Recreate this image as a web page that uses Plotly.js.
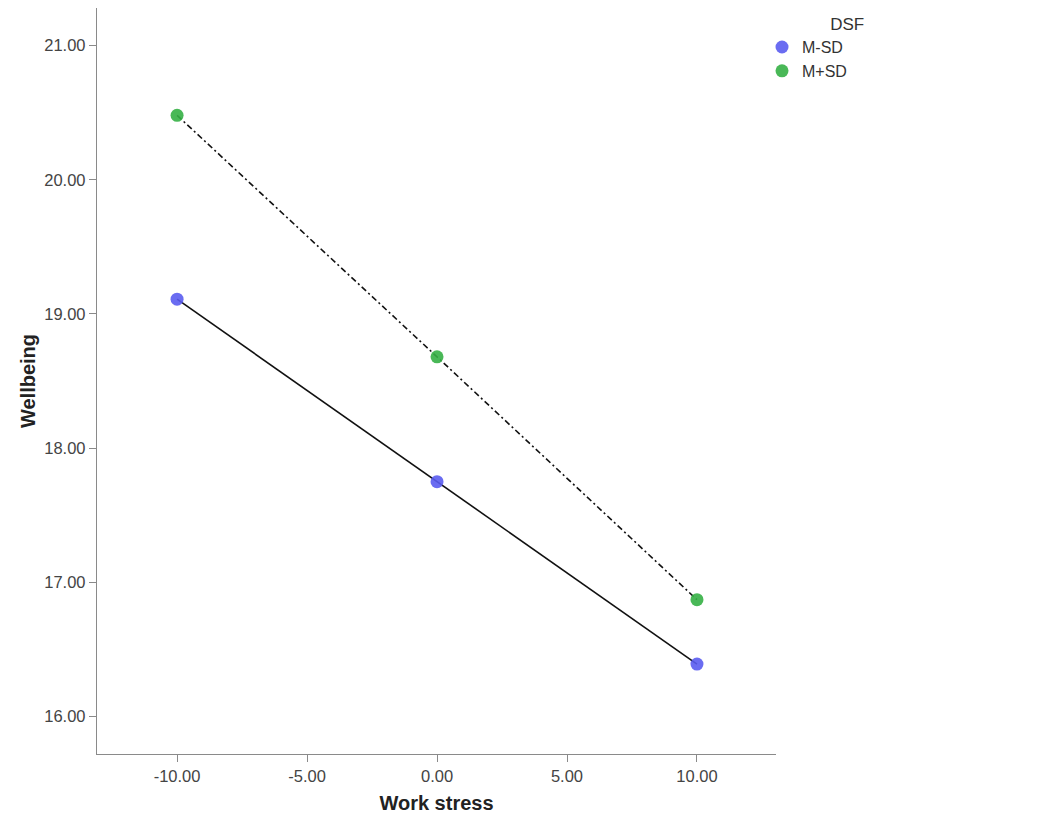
<!DOCTYPE html>
<html>
<head>
<meta charset="utf-8">
<script src="https://cdn.plot.ly/plotly-3.0.1.min.js"></script>
<style>html,body{margin:0;padding:0;background:#fff;}#chart{width:1037px;height:829px;}</style>
</head>
<body>
<div id="chart"></div>
<script>
const workStress = [-10, 0, 10];
const wellbeingMinusSD = [19.11, 17.75, 16.39];
const wellbeingPlusSD = [20.48, 18.68, 16.87];
const seriesNames = ['M-SD', 'M+SD'];
const legendTitle = 'DSF';
const xTicks = [-10, -5, 0, 5, 10];
const yTicks = [16, 17, 18, 19, 20, 21];

const blue = '#5a5cf0';
const green = '#35b045';

const traces = [
  {x: workStress, y: wellbeingMinusSD, mode: 'lines', line: {color: '#111', width: 1.6, dash: 'solid'}, showlegend: false, hoverinfo: 'skip'},
  {x: workStress, y: wellbeingPlusSD, mode: 'lines', line: {color: '#111', width: 1.6, dash: '6px,3px,2px,3px'}, showlegend: false, hoverinfo: 'skip'},
  {x: workStress, y: wellbeingMinusSD, mode: 'markers', name: seriesNames[0], marker: {color: blue, size: 13, opacity: 0.9}},
  {x: workStress, y: wellbeingPlusSD, mode: 'markers', name: seriesNames[1], marker: {color: green, size: 13, opacity: 0.9}}
];

const layout = {
  width: 1037, height: 829,
  margin: {l: 97, r: 261, t: 8, b: 75},
  paper_bgcolor: '#fff', plot_bgcolor: '#fff',
  font: {family: 'Liberation Sans, Arial, sans-serif', color: '#444', size: 16.5},
  xaxis: {
    range: [-13.08, 13.04],
    tickvals: xTicks,
    ticktext: xTicks.map(v => v.toFixed(2)),
    showgrid: false, zeroline: false,
    showline: true, linecolor: '#8a8a8a', linewidth: 1.2,
    ticks: 'outside', ticklen: 7, tickcolor: '#8a8a8a',
    tickfont: {size: 16.5, color: '#444'},
    title: {text: 'Work stress', font: {size: 20, color: '#222', weight: 'bold'}, standoff: 12}
  },
  yaxis: {
    range: [15.72, 21.28],
    tickvals: yTicks,
    ticktext: yTicks.map(v => v.toFixed(2)),
    showgrid: false, zeroline: false,
    showline: true, linecolor: '#8a8a8a', linewidth: 1.2,
    ticks: 'outside', ticklen: 7, tickcolor: '#8a8a8a',
    tickfont: {size: 16.5, color: '#444'},
    title: {text: 'Wellbeing', font: {size: 20, color: '#222', weight: 'bold'}, standoff: 3}
  },
  showlegend: true,
  legend: {
    x: 0.9794, y: 1.0, xanchor: 'left', yanchor: 'top',
    title: {text: '\u00a0'.repeat(14) + legendTitle, side: 'top', font: {size: 17, color: '#333'}},
    font: {size: 16, color: '#333'},
    itemwidth: 30, tracegroupgap: 0,
    bgcolor: 'rgba(0,0,0,0)'
  }
};

Plotly.newPlot('chart', traces, layout, {displayModeBar: false, staticPlot: true});
</script>
</body>
</html>
